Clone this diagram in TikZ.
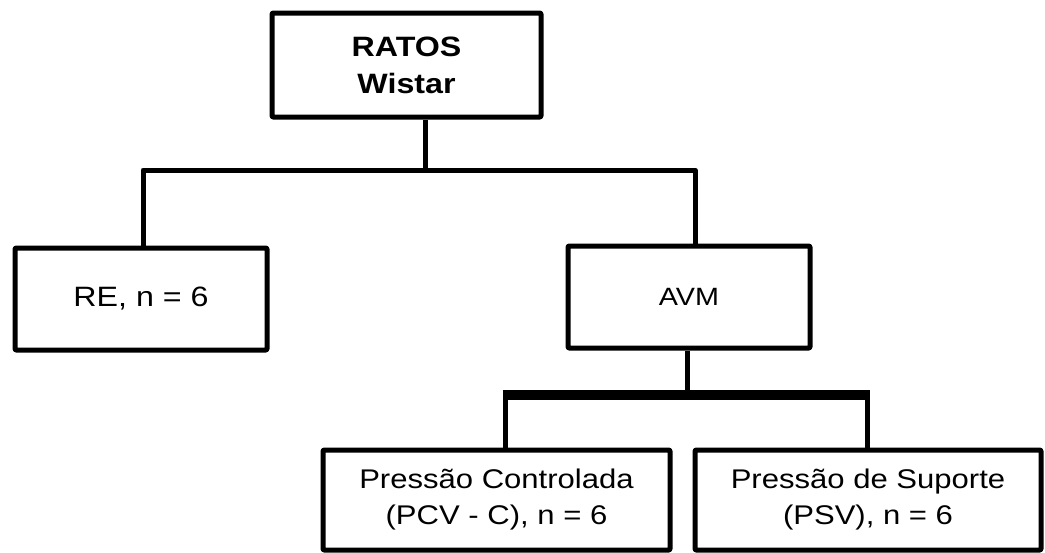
\documentclass[tikz,border=0pt]{standalone}
\usepackage{fontspec}
\newfontfamily\boxfont[FakeStretch=1.15]{Liberation Sans}
\usetikzlibrary{positioning}

\tikzset{
  group/.style={draw=black,line width=5pt,line join=round,rounded corners=1pt,
    inner sep=0pt,align=center,font=\boxfont\fontsize{28}{37}\selectfont},
  link/.style={draw=black,line width=5pt,line join=round},
  bar/.style={draw=black,line width=10pt}
}

\begin{document}
\begin{tikzpicture}[x=1pt,y=-1pt]
    \useasboundingbox (0,0) rectangle (1045,552);
    \node[group,minimum width=269pt,minimum height=104pt] (ratos) at (406.5,65) {\bfseries RATOS\\\bfseries Wistar};
    \node[group,minimum width=252pt,minimum height=102pt] (re) at (141,299) {RE, n = 6};
    \node[group,minimum width=242pt,minimum height=102pt,font=\boxfont\fontsize{25}{32}\selectfont] (avm) at (689,297) {AVM};
    \node[group,minimum width=347pt,minimum height=100pt,font=\boxfont\fontsize{27}{36}\selectfont] (pcv) at (496.5,500) {Pressão Controlada\\(PCV - C), n = 6};
    \node[group,minimum width=346pt,minimum height=100pt,font=\boxfont\fontsize{27}{36}\selectfont] (psv) at (868,500) {Pressão de Suporte\\(PSV), n = 6};
    % upper split
    \coordinate (top split) at (425,170);
    \draw[link] (ratos.south -| top split) -- (top split);
    \draw[link] ([xshift=2pt]re.north) |- (top split) -| ([xshift=6pt]avm.north);
    % lower split
    \coordinate (low split) at (687,395);
    \coordinate (bar left) at (505,395);
    \coordinate (bar right) at (867,395);
    \draw[link] (avm.south -| low split) -- (low split);
    \draw[bar] ([xshift=-2.5pt]bar left) -- ([xshift=2.5pt]bar right);
    \draw[link] (bar left) -- (bar left |- pcv.north);
    \draw[link] (bar right) -- (bar right |- psv.north);
\end{tikzpicture}
\end{document}
